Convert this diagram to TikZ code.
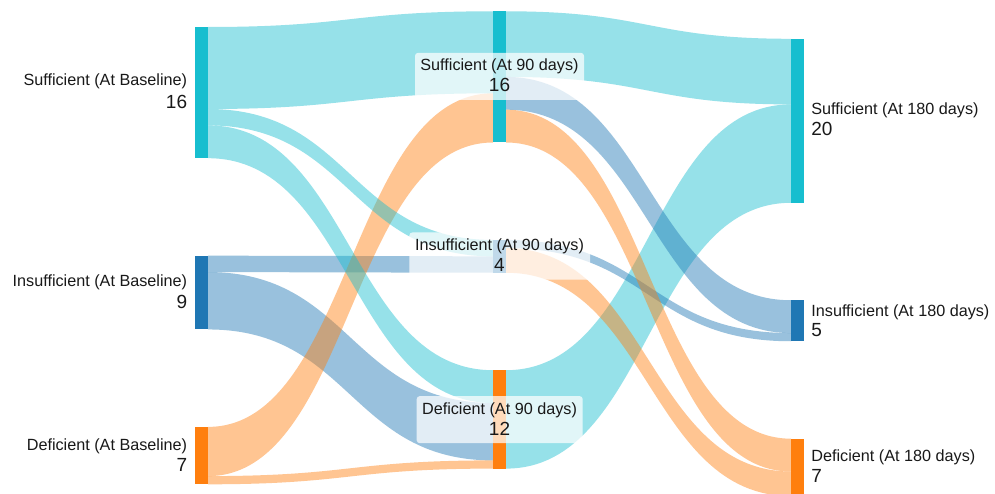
\documentclass[tikz,border=0pt]{standalone}
\usepackage{fontspec}
\setmainfont{Liberation Sans}
\definecolor{cyanN}{RGB}{23,190,207}
\definecolor{blueN}{RGB}{31,119,180}
\definecolor{orangeN}{RGB}{255,127,14}
\definecolor{txt}{RGB}{25,25,25}
% left column flows: x 208 -> 493, right column flows: x 506 -> 791
\newcommand{\flowL}[5]{\fill[#5, fill opacity=0.45] (208,#1) .. controls (350.5,#1) and (350.5,#3) .. (493,#3) -- (493,#4) .. controls (350.5,#4) and (350.5,#2) .. (208,#2) -- cycle;}
\newcommand{\flowR}[5]{\fill[#5, fill opacity=0.45] (506,#1) .. controls (648.5,#1) and (648.5,#3) .. (791,#3) -- (791,#4) .. controls (648.5,#4) and (648.5,#2) .. (506,#2) -- cycle;}
\tikzset{
  barnode/.style={draw=none, inner sep=0pt, outer sep=0pt, minimum width=13pt},
  namelbl/.style={inner sep=0pt, text=txt, font=\fontsize{16.2}{19}\selectfont},
  numlbl/.style={inner sep=0pt, text=txt, font=\fontsize{19}{22}\selectfont},
  lblbox/.style={fill=white, fill opacity=0.72, rounded corners=3pt, draw=none, inner sep=0pt, minimum height=47pt},
}
\begin{document}
\begin{tikzpicture}[x=1pt, y=-1pt]
\useasboundingbox (0,0) rectangle (995,494);
\fill[white] (0,0) rectangle (995,494);
\clip (0,0) rectangle (995,494);
% ---- flows baseline -> 90 days
\flowL{255.65}{272.05}{256.35}{272.75}{blueN}
\flowL{272.05}{329.45}{403.0}{460.4}{blueN}
\flowL{426.9}{476.1}{93.3}{142.5}{orangeN}
\flowL{476.1}{484.3}{460.4}{468.6}{orangeN}
\flowL{27.0}{109.0}{11.3}{93.3}{cyanN}
\flowL{109.0}{125.4}{239.95}{256.35}{cyanN}
\flowL{125.4}{158.2}{370.2}{403.0}{cyanN}
% ---- flows 90 days -> 180 days
\flowR{11.3}{76.9}{38.8}{104.4}{cyanN}
\flowR{370.2}{468.6}{104.4}{202.8}{cyanN}
\flowR{76.9}{109.7}{300.25}{333.05}{blueN}
\flowR{239.95}{248.15}{333.05}{341.25}{blueN}
\flowR{109.7}{142.5}{438.7}{471.5}{orangeN}
\flowR{248.15}{272.75}{471.5}{496.1}{orangeN}
% ---- node bars
\node[barnode, fill=cyanN, minimum height=131.2pt] (sb) at (201.5,92.6) {};
\node[barnode, fill=blueN, minimum height=73.8pt] (ib) at (201.5,292.55) {};
\node[barnode, fill=orangeN, minimum height=57.4pt] (db) at (201.5,455.6) {};
\node[barnode, fill=cyanN, minimum height=131.2pt] (s90) at (499.5,76.9) {};
\node[barnode, fill=blueN, minimum height=32.8pt] (i90) at (499.5,256.35) {};
\node[barnode, fill=orangeN, minimum height=98.4pt] (d90) at (499.5,419.4) {};
\node[barnode, fill=cyanN, minimum height=164pt] (s180) at (797.5,120.8) {};
\node[barnode, fill=blueN, minimum height=41pt] (i180) at (797.5,320.75) {};
\node[barnode, fill=orangeN, minimum height=57.4pt] (d180) at (797.5,467.4) {};
% ---- label boxes of the middle column
\node[lblbox, minimum width=169pt] (bs90) at (499.5,76.35) {};
\node[lblbox, minimum width=180.7pt] (bi90) at (499.65,256) {};
\node[lblbox, minimum width=166pt] (bd90) at (499.7,419.65) {};
% ---- labels, left column
\node[namelbl, anchor=base east] (tsb) at (187.3,86) {Sufficient (At Baseline)};
\node[numlbl, anchor=base east] (nsb) at (187.3,108.3) {16};
\node[namelbl, anchor=base east] (tib) at (187.3,286.7) {Insufficient (At Baseline)};
\node[numlbl, anchor=base east] (nib) at (187.3,308.3) {9};
\node[namelbl, anchor=base east] (tdb) at (187.3,450) {Deficient (At Baseline)};
\node[numlbl, anchor=base east] (ndb) at (187.3,471) {7};
% ---- labels, middle column
\node[namelbl, anchor=base] (ts90) at (499.5,70.9) {Sufficient (At 90 days)};
\node[numlbl, anchor=base] (ns90) at (499.5,91.9) {16};
\node[namelbl, anchor=base] (ti90) at (499.5,250.7) {Insufficient (At 90 days)};
\node[numlbl, anchor=base] (ni90) at (499.5,271.7) {4};
\node[namelbl, anchor=base] (td90) at (499.5,414.6) {Deficient (At 90 days)};
\node[numlbl, anchor=base] (nd90) at (499.5,435.8) {12};
% ---- labels, right column
\node[namelbl, anchor=base west] (ts180) at (811.2,115) {Sufficient (At 180 days)};
\node[numlbl, anchor=base west] (ns180) at (811.2,136) {20};
\node[namelbl, anchor=base west] (ti180) at (811.2,316) {Insufficient (At 180 days)};
\node[numlbl, anchor=base west] (ni180) at (811.2,336.7) {5};
\node[namelbl, anchor=base west] (td180) at (811.2,461.7) {Deficient (At 180 days)};
\node[numlbl, anchor=base west] (nd180) at (811.2,482.3) {7};
\end{tikzpicture}
\end{document}
